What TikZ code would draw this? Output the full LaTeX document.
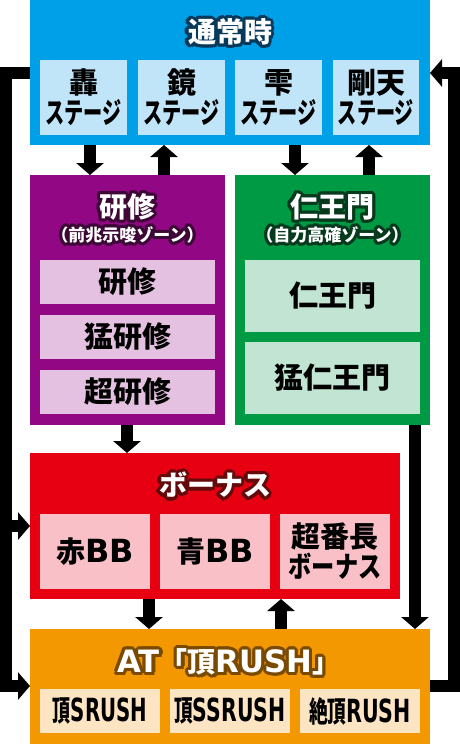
\documentclass[tikz,border=0pt]{standalone}
\usepackage{fontspec}
\usepackage{graphicx}
\setmainfont{Noto Sans CJK JP}
\newfontfamily\enfont{DejaVu Sans}[Scale=1.1]
\usetikzlibrary{arrows.meta,calc}

\definecolor{tsujo}{HTML}{00A0E9}
\definecolor{tsujoL}{HTML}{C1E5F8}
\definecolor{tsujoD}{HTML}{07395A}
\definecolor{kenshu}{HTML}{920783}
\definecolor{kenshuL}{HTML}{E4C1E0}
\definecolor{kenshuD}{HTML}{3C0836}
\definecolor{niomon}{HTML}{009944}
\definecolor{niomonL}{HTML}{C1E5D2}
\definecolor{niomonD}{HTML}{073A1C}
\definecolor{bonus}{HTML}{E60012}
\definecolor{bonusL}{HTML}{F9C1C7}
\definecolor{bonusD}{HTML}{640A0A}
\definecolor{rush}{HTML}{F39800}
\definecolor{rushL}{HTML}{FDE4C3}
\definecolor{rushD}{HTML}{7A4A00}

\newcommand{\en}[1]{{\enfont\bfseries #1}}
\newcommand{\hoso}[2]{\scalebox{#1}[1]{#2}}
% 縁取り付きの見出し
\newcommand{\midashi}[4]{%
  \foreach \ang in {0,24,...,336}
    \node[titleji, text=#3] (#1h\ang) at ($(#2)+(\ang:3.2pt)$) {#4};
  \node[titleji, text=white] (#1) at (#2) {#4};}

\begin{document}
\begin{tikzpicture}[x=1pt, y=-1pt, >={Triangle[width=27pt,length=12pt]},
    waku/.style={anchor=north west, inner sep=0pt, outer sep=0pt},
    koma/.style={waku, align=center, font=\bfseries\fontsize{29}{30}\selectfont},
    titleji/.style={inner sep=0pt, font=\bfseries\fontsize{28}{29}\selectfont},
    yaji/.style={->, line width=11.5pt, line join=miter}]
    \useasboundingbox (0,0) rectangle (460,744);

    % 通常時
    \node[waku, fill=tsujo, minimum width=400pt, minimum height=145pt] (tsujo) at (30,0) {};
    \midashi{tsujoT}{230,32}{tsujoD}{通常時}
    \node[koma, fill=tsujoL, minimum width=87pt, minimum height=75pt] (todoroki) at (40,60) {轟\\ \hoso{.66}{ステージ}};
    \node[koma, fill=tsujoL, minimum width=87pt, minimum height=75pt] (kagami) at (138,60) {鏡\\ \hoso{.66}{ステージ}};
    \node[koma, fill=tsujoL, minimum width=87pt, minimum height=75pt] (shizuku) at (235,60) {雫\\ \hoso{.66}{ステージ}};
    \node[koma, fill=tsujoL, minimum width=86pt, minimum height=75pt] (gouten) at (333,60) {剛天\\ \hoso{.66}{ステージ}};

    % 研修
    \node[waku, fill=kenshu, minimum width=195pt, minimum height=250pt] (kenshu) at (30,175) {};
    \midashi{kenshuT}{127.5,207}{kenshuD}{研修}
    \midashi{kenshuS}{127.5,235}{kenshuD}{\fontsize{17}{18}\selectfont （前兆示唆ゾーン）}
    \node[koma, fill=kenshuL, minimum width=175pt, minimum height=44pt] (kenshu1) at (40,260) {研修};
    \node[koma, fill=kenshuL, minimum width=175pt, minimum height=44pt] (kenshu2) at (40,315) {猛研修};
    \node[koma, fill=kenshuL, minimum width=175pt, minimum height=44pt] (kenshu3) at (40,370) {超研修};

    % 仁王門
    \node[waku, fill=niomon, minimum width=195pt, minimum height=250pt] (niomon) at (235,175) {};
    \midashi{niomonT}{332.5,207}{niomonD}{仁王門}
    \midashi{niomonS}{332.5,235}{niomonD}{\fontsize{17}{18}\selectfont （自力高確ゾーン）}
    \node[koma, fill=niomonL, minimum width=175pt, minimum height=72pt] (niomon1) at (245,260) {仁王門};
    \node[koma, fill=niomonL, minimum width=175pt, minimum height=72pt] (niomon2) at (245,342) {猛仁王門};

    % ボーナス
    \node[waku, fill=bonus, minimum width=370pt, minimum height=146pt] (bonus) at (30,453) {};
    \midashi{bonusT}{215,485}{bonusD}{ボーナス}
    \node[koma, fill=bonusL, minimum width=110pt, minimum height=75pt] (akabb) at (40,514) {赤\en{BB}};
    \node[koma, fill=bonusL, minimum width=110pt, minimum height=75pt] (aobb) at (160,514) {青\en{BB}};
    \node[koma, fill=bonusL, minimum width=110pt, minimum height=75pt] (bancho) at (280,514) {超番長\\ \hoso{.8}{ボーナス}};

    % AT
    \node[waku, fill=rush, minimum width=400pt, minimum height=115pt] (rush) at (30,629) {};
    \midashi{rushT}{229,662}{rushD}{\en{AT}「頂\en{RUSH}」}
    \node[koma, fill=rushL, minimum width=120pt, minimum height=44pt] (srush) at (40,689) {\hoso{.62}{頂\en{SRUSH}}};
    \node[koma, fill=rushL, minimum width=120pt, minimum height=44pt] (ssrush) at (170,689) {\hoso{.64}{頂\en{SSRUSH}}};
    \node[koma, fill=rushL, minimum width=120pt, minimum height=44pt] (zetsu) at (300,689) {\hoso{.645}{絶頂\en{RUSH}}};

    % 矢印
    \draw[yaji] (90,0 |- tsujo.south) -- (90,0 |- kenshu.north);
    \draw[yaji] (164,0 |- kenshu.north) -- (164,0 |- tsujo.south);
    \draw[yaji] (295,0 |- tsujo.south) -- (295,0 |- niomon.north);
    \draw[yaji] (369,0 |- niomon.north) -- (369,0 |- tsujo.south);
    \draw[yaji] (127,0 |- kenshu.south) -- (127,0 |- bonus.north);
    \draw[yaji] (149,0 |- bonus.south) -- (149,0 |- rush.north);
    \draw[yaji] (281,0 |- rush.north) -- (281,0 |- bonus.south);
    \draw[yaji] (415,0 |- niomon.south) -- (415,0 |- rush.north);

    % 外回り
    \coordinate (bunki) at (6,526);
    \draw[yaji] (tsujo.west |- 0,73) -- (6,73) -- (6,686) -- (rush.west |- 0,686);
    \draw[yaji] (bunki) -- (bonus.west |- bunki);
    \draw[yaji] (rush.east |- 0,686) -- (454,686) -- (454,73) -- (tsujo.east |- 0,73);
\end{tikzpicture}
\end{document}
